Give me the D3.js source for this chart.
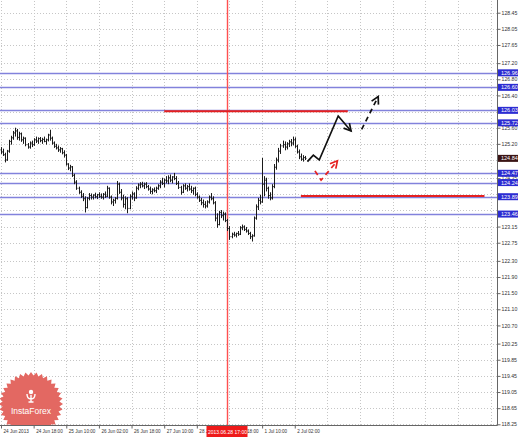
<!DOCTYPE html>
<html>
<head>
<meta charset="utf-8">
<title>H1 forecast chart</title>
<script src="https://cdnjs.cloudflare.com/ajax/libs/d3/7.8.5/d3.min.js"></script>
<style>
  body { margin: 0; background: #fff; }
  svg { display: block; font-family: 'Liberation Sans', Arial, sans-serif; }
</style>
</head>
<body>
<script>

// hourly bars, [open, high, low, close]
const bars = [
  [125.05,125.12,124.95,125.00], [125.00,125.08,124.90,124.93], [124.93,124.98,124.74,124.80], [124.80,125.05,124.78,125.02],
  [125.02,125.30,124.98,125.26], [125.26,125.40,125.18,125.35], [125.35,125.52,125.30,125.47], [125.47,125.60,125.38,125.52],
  [125.52,125.57,125.30,125.36], [125.36,125.50,125.28,125.45], [125.45,125.48,125.25,125.30], [125.30,125.38,125.20,125.34],
  [125.34,125.36,125.14,125.18], [125.18,125.22,125.08,125.12], [125.12,125.26,125.08,125.22], [125.22,125.28,125.12,125.18],
  [125.18,125.34,125.15,125.30], [125.30,125.38,125.22,125.27], [125.27,125.36,125.20,125.33], [125.33,125.37,125.24,125.28],
  [125.28,125.35,125.20,125.31], [125.31,125.38,125.24,125.26], [125.26,125.33,125.18,125.30], [125.30,125.45,125.26,125.42],
  [125.42,125.55,125.28,125.34], [125.34,125.38,125.18,125.22], [125.22,125.26,125.10,125.14], [125.14,125.20,125.06,125.10],
  [125.10,125.16,125.00,125.05], [125.05,125.12,124.98,125.08], [125.08,125.10,124.94,124.98], [124.98,125.04,124.86,124.92],
  [124.92,124.95,124.66,124.70], [124.70,124.72,124.55,124.60], [124.60,124.68,124.52,124.63], [124.63,124.65,124.38,124.42],
  [124.42,124.46,124.20,124.25], [124.25,124.30,124.06,124.10], [124.10,124.14,123.96,124.00], [124.00,124.05,123.86,123.90],
  [123.90,123.98,123.78,123.84], [123.84,123.90,123.50,123.62], [123.62,123.88,123.60,123.85], [123.85,123.98,123.80,123.92],
  [123.92,123.97,123.82,123.88], [123.88,123.95,123.82,123.93], [123.93,123.99,123.85,123.89], [123.89,123.96,123.83,123.94],
  [123.94,124.00,123.86,123.90], [123.90,123.97,123.84,123.88], [123.88,123.98,123.82,123.95], [123.95,124.02,123.86,123.90],
  [123.90,124.16,123.88,124.10], [124.10,124.12,123.84,123.88], [123.88,123.92,123.70,123.76], [123.76,123.84,123.66,123.80],
  [123.80,123.88,123.72,123.85], [123.85,124.28,123.82,124.20], [124.20,124.24,123.96,124.00], [124.00,124.08,123.80,123.86],
  [123.86,123.94,123.62,123.70], [123.70,123.90,123.58,123.84], [123.84,123.88,123.48,123.60], [123.60,123.95,123.58,123.90],
  [123.90,124.02,123.82,123.96], [123.96,124.00,123.78,123.86], [123.86,124.15,123.84,124.10], [124.10,124.22,124.05,124.18],
  [124.18,124.25,124.10,124.20], [124.20,124.26,124.12,124.16], [124.16,124.24,124.08,124.20], [124.20,124.25,124.10,124.14],
  [124.14,124.18,124.04,124.08], [124.08,124.14,123.96,124.02], [124.02,124.10,123.95,124.06], [124.06,124.12,124.00,124.04],
  [124.04,124.14,123.98,124.10], [124.10,124.20,124.06,124.16], [124.16,124.30,124.10,124.25], [124.25,124.36,124.18,124.22],
  [124.22,124.34,124.12,124.30], [124.30,124.40,124.22,124.28], [124.28,124.42,124.20,124.36], [124.36,124.44,124.25,124.30],
  [124.30,124.40,124.22,124.38], [124.38,124.48,124.30,124.34], [124.34,124.40,124.18,124.22], [124.22,124.28,124.08,124.12],
  [124.12,124.16,123.94,124.00], [124.00,124.20,123.98,124.16], [124.16,124.22,124.06,124.10], [124.10,124.18,124.02,124.14],
  [124.14,124.22,124.04,124.08], [124.08,124.16,123.98,124.04], [124.04,124.12,123.94,124.10], [124.10,124.14,123.90,123.95],
  [123.95,124.00,123.84,123.88], [123.88,123.92,123.76,123.80], [123.80,123.86,123.68,123.74], [123.74,123.82,123.62,123.70],
  [123.70,123.78,123.60,123.66], [123.66,123.80,123.62,123.76], [123.76,123.92,123.72,123.88], [123.88,123.98,123.80,123.84],
  [123.84,123.90,123.70,123.74], [123.74,123.78,123.28,123.36], [123.36,123.48,123.12,123.20], [123.20,123.54,123.18,123.50],
  [123.50,123.56,123.36,123.42], [123.42,123.52,123.30,123.46], [123.46,123.50,123.26,123.30], [123.30,123.34,123.04,123.10],
  [123.10,123.16,122.82,122.90], [122.90,123.00,122.86,122.96], [122.96,123.02,122.90,122.94], [122.94,123.00,122.88,122.98],
  [122.98,123.04,122.92,122.96], [122.96,123.16,122.94,123.12], [123.12,123.20,123.06,123.14], [123.14,123.18,123.04,123.08],
  [123.08,123.14,123.00,123.04], [123.04,123.08,122.94,122.98], [122.98,123.02,122.84,122.90], [122.90,122.96,122.78,122.92],
  [122.92,123.40,122.90,123.36], [123.36,123.70,123.32,123.64], [123.64,123.86,123.56,123.80], [123.80,123.94,123.70,123.76],
  [123.76,124.85,123.74,124.20], [124.20,124.40,123.90,124.30], [124.30,124.36,124.02,124.10], [124.10,124.14,123.84,123.92],
  [123.92,124.00,123.80,123.86], [123.86,124.20,123.82,124.14], [124.14,124.70,124.10,124.62], [124.62,124.86,124.56,124.80],
  [124.80,125.10,124.74,125.02], [125.02,125.20,124.95,125.15], [125.15,125.28,125.10,125.18], [125.18,125.26,125.04,125.12],
  [125.12,125.24,125.06,125.20], [125.20,125.30,125.12,125.25], [125.25,125.32,125.14,125.22], [125.22,125.38,125.16,125.30],
  [125.30,125.36,125.10,125.14], [125.14,125.18,124.96,125.00], [125.00,125.06,124.82,124.88], [124.88,124.96,124.78,124.82],
  [124.82,124.92,124.76,124.86], [124.86,124.90,124.80,124.84]
];

// price scale labels on the right
const priceTicks = [118.25, 118.65, 119.05, 119.45, 119.85, 120.25, 120.70, 121.10, 121.50, 121.90, 122.30, 122.75, 123.15,
  123.55, 123.95, 124.35, 124.80, 125.20, 125.60, 126.00, 126.40, 126.80, 127.20, 127.65, 128.05, 128.45];

// time labels, one every 16 bars
const timeLabels = ['24 Jun 2013', '24 Jun 18:00', '25 Jun 10:00', '26 Jun 02:00', '26 Jun 18:00', '27 Jun 10:00',
  '28 Jun 02:00', '28 Jun 18:00', '1 Jul 10:00', '2 Jul 02:00'];
const labelStep = 16;

// support / resistance levels (blue)
const levels = [126.96, 126.60, 126.03, 125.72, 124.47, 124.24, 123.89, 123.46];
const lastPrice = 124.84;

// red target lines: [price, from bar, to bar]
const targets = [[126.01, 80, 170], [123.91, 147, 237]];

// vertical cursor
const cursorBar = 111;
const cursorLabel = '2013.06.28 17:00';

// forecast arrows, points as [bar, price]
const mainArrow = [[150.2, 124.76], [153.1, 124.92], [156.0, 124.80], [165.3, 125.89], [171.6, 125.52]];
const nextArrow = [[176.8, 125.56], [184.9, 126.37]];
const altArrow = [[153.9, 124.53], [156.9, 124.30], [164.9, 124.78]];

const W = 519, H = 437;
const plotRight = 497, plotBottom = 425;

let svg = d3.select('body')
  .append('svg')
  .attr('width', W)
  .attr('height', H);

let x = d3.scaleLinear().domain([0, 240]).range([1, 490.6]);
let y = d3.scaleLinear().domain([118.25, 128.45]).range([424.3, 12.7]);

svg.append('defs')
  .append('clipPath')
  .attr('id', 'plot')
  .append('rect')
  .attr('width', plotRight)
  .attr('height', plotBottom);

// dotted grid
svg.append('g')
  .attr('transform', `translate(${plotRight},0)`)
  .call(d3.axisLeft(y).tickValues(priceTicks).tickSize(plotRight).tickFormat(''))
  .call(g => g.select('.domain').remove())
  .selectAll('line')
  .attr('stroke', '#c6c6c6')
  .attr('stroke-dasharray', '1,2')
  .attr('shape-rendering', 'crispEdges');

let gridBars = d3.range(0, 241, labelStep);
svg.append('g')
  .attr('transform', `translate(0,${plotBottom})`)
  .call(d3.axisTop(x).tickValues(gridBars).tickSize(plotBottom).tickFormat(''))
  .call(g => g.select('.domain').remove())
  .selectAll('line')
  .attr('stroke', '#c6c6c6')
  .attr('stroke-dasharray', '1,2')
  .attr('shape-rendering', 'crispEdges');

let plot = svg.append('g').attr('clip-path', 'url(#plot)');

// instaforex badge
let badge = plot.append('g').attr('transform', 'translate(31,404)');
let star = d3.range(72).map(k => [k * Math.PI / 36, k % 2 ? 28.5 : 32]);
badge.append('path')
  .attr('d', d3.lineRadial()(star) + 'Z')
  .attr('fill', '#e36862');
badge.append('circle')
  .attr('cy', -12)
  .attr('r', 2.2)
  .attr('fill', '#fff');
badge.append('path')
  .attr('d', 'M0,-9V-2M-4,-10Q-4,-5 0,-5Q4,-5 4,-10M-2.5,-2H2.5')
  .attr('stroke', '#fff')
  .attr('stroke-width', 1.4)
  .attr('fill', 'none');
badge.append('text')
  .attr('y', 10)
  .attr('text-anchor', 'middle')
  .attr('fill', '#fff')
  .style('font-size', '8.5px')
  .text('InstaForex');

// blue levels
plot.append('g')
  .selectAll('line')
  .data(levels)
  .enter()
  .append('line')
  .attr('x1', 0)
  .attr('x2', plotRight)
  .attr('y1', d => Math.round(y(d)) + 0.5)
  .attr('y2', d => Math.round(y(d)) + 0.5)
  .attr('stroke', '#8282dc')
  .attr('stroke-width', 1.3);

// cursor line
let cx = Math.round(x(cursorBar)) + 0.5;
plot.append('line')
  .attr('x1', cx)
  .attr('x2', cx)
  .attr('y1', 0)
  .attr('y2', plotBottom)
  .attr('stroke', '#ff5050')
  .attr('stroke-width', 1.4);

// price bars
plot.append('g')
  .selectAll('path')
  .data(bars)
  .enter()
  .append('path')
  .attr('d', (d, i) => {
    let bx = Math.round(x(i)) + 0.5;
    return `M${bx},${y(d[1])}V${y(d[2])}M${bx - 1},${y(d[0])}H${bx}M${bx},${y(d[3])}H${bx + 1}`;
  })
  .attr('stroke', '#1a1a1a')
  .attr('stroke-width', 1)
  .attr('fill', 'none');

// red target lines
plot.append('g')
  .selectAll('line')
  .data(targets)
  .enter()
  .append('line')
  .attr('x1', d => x(d[1]))
  .attr('x2', d => x(d[2]))
  .attr('y1', d => y(d[0]))
  .attr('y2', d => y(d[0]))
  .attr('stroke', '#e52020')
  .attr('stroke-width', 2);

function arrow(points, color, dash) {
  let line = d3.line().x(d => x(d[0])).y(d => y(d[1]));
  let g = plot.append('g')
    .attr('stroke', color)
    .attr('stroke-width', 1.7)
    .attr('fill', 'none');
  g.append('path')
    .attr('d', line(points))
    .attr('stroke-dasharray', dash);
  // arrow head
  let a = points[points.length - 2], b = points[points.length - 1];
  let tx = x(b[0]), ty = y(b[1]);
  let ang = Math.atan2(ty - y(a[1]), tx - x(a[0]));
  let len = 8;
  let p1 = [tx - len * Math.cos(ang - 0.5), ty - len * Math.sin(ang - 0.5)];
  let p2 = [tx - len * Math.cos(ang + 0.5), ty - len * Math.sin(ang + 0.5)];
  g.append('path')
    .attr('d', `M${p1}L${tx},${ty}L${p2}`);
}

arrow(mainArrow, '#111', null);
arrow(nextArrow, '#111', '5,4');
arrow(altArrow, '#e52020', '5,4');

// frame
svg.append('path')
  .attr('d', `M${plotRight + 0.5},0V${plotBottom + 0.5}H0`)
  .attr('stroke', '#666')
  .attr('fill', 'none');

// right price axis, labels under the level boxes stay hidden as in the terminal
let boxed = levels.concat([lastPrice]);
let shownTicks = priceTicks.filter(t => d3.min(boxed, b => Math.abs(y(b) - y(t))) > 4);
svg.append('g')
  .attr('transform', `translate(${plotRight + 0.5},0)`)
  .call(d3.axisRight(y).tickValues(shownTicks).tickSize(3).tickPadding(1).tickFormat(d3.format('.2f')))
  .call(g => g.select('.domain').remove())
  .call(g => g.selectAll('line').attr('stroke', '#666'))
  .call(g => g.selectAll('text').attr('fill', '#333').style('font-size', '5.2px'));

// level boxes
let boxes = svg.append('g')
  .selectAll('g')
  .data(levels)
  .enter()
  .append('g')
  .attr('transform', d => `translate(${plotRight + 1},${y(d)})`);
boxes.append('rect')
  .attr('y', -3.5)
  .attr('width', 20)
  .attr('height', 7)
  .attr('fill', '#2c2cd2');
boxes.append('text')
  .attr('x', 3)
  .attr('dy', '0.35em')
  .attr('fill', '#fff')
  .style('font-size', '5.5px')
  .text(d => d.toFixed(2));

let last = svg.append('g').attr('transform', `translate(${plotRight + 1},${y(lastPrice)})`);
last.append('rect')
  .attr('y', -3.5)
  .attr('width', 20)
  .attr('height', 7)
  .attr('fill', '#3a1414');
last.append('text')
  .attr('x', 3)
  .attr('dy', '0.35em')
  .attr('fill', '#fff')
  .style('font-size', '5.5px')
  .text(lastPrice.toFixed(2));

// time axis
let timeBars = timeLabels.map((d, i) => i * labelStep);
svg.append('g')
  .attr('transform', `translate(0,${plotBottom + 0.5})`)
  .call(d3.axisBottom(x).tickValues(timeBars).tickSize(3).tickFormat((d, i) => timeLabels[i]))
  .call(g => g.select('.domain').remove())
  .call(g => g.selectAll('line').attr('stroke', '#666'))
  .call(g => g.selectAll('text')
    .attr('text-anchor', 'start')
    .attr('x', 2)
    .attr('y', 4.5)
    .attr('fill', '#333')
    .style('font-size', '4.6px'));

// cursor time box
svg.append('rect')
  .attr('x', cx - 21)
  .attr('y', plotBottom + 1)
  .attr('width', 41)
  .attr('height', 11)
  .attr('fill', '#ee1a1a');
svg.append('text')
  .attr('x', cx)
  .attr('y', plotBottom + 8.5)
  .attr('text-anchor', 'middle')
  .attr('fill', '#fff')
  .style('font-size', '5px')
  .text(cursorLabel);

</script>
</body>
</html>
